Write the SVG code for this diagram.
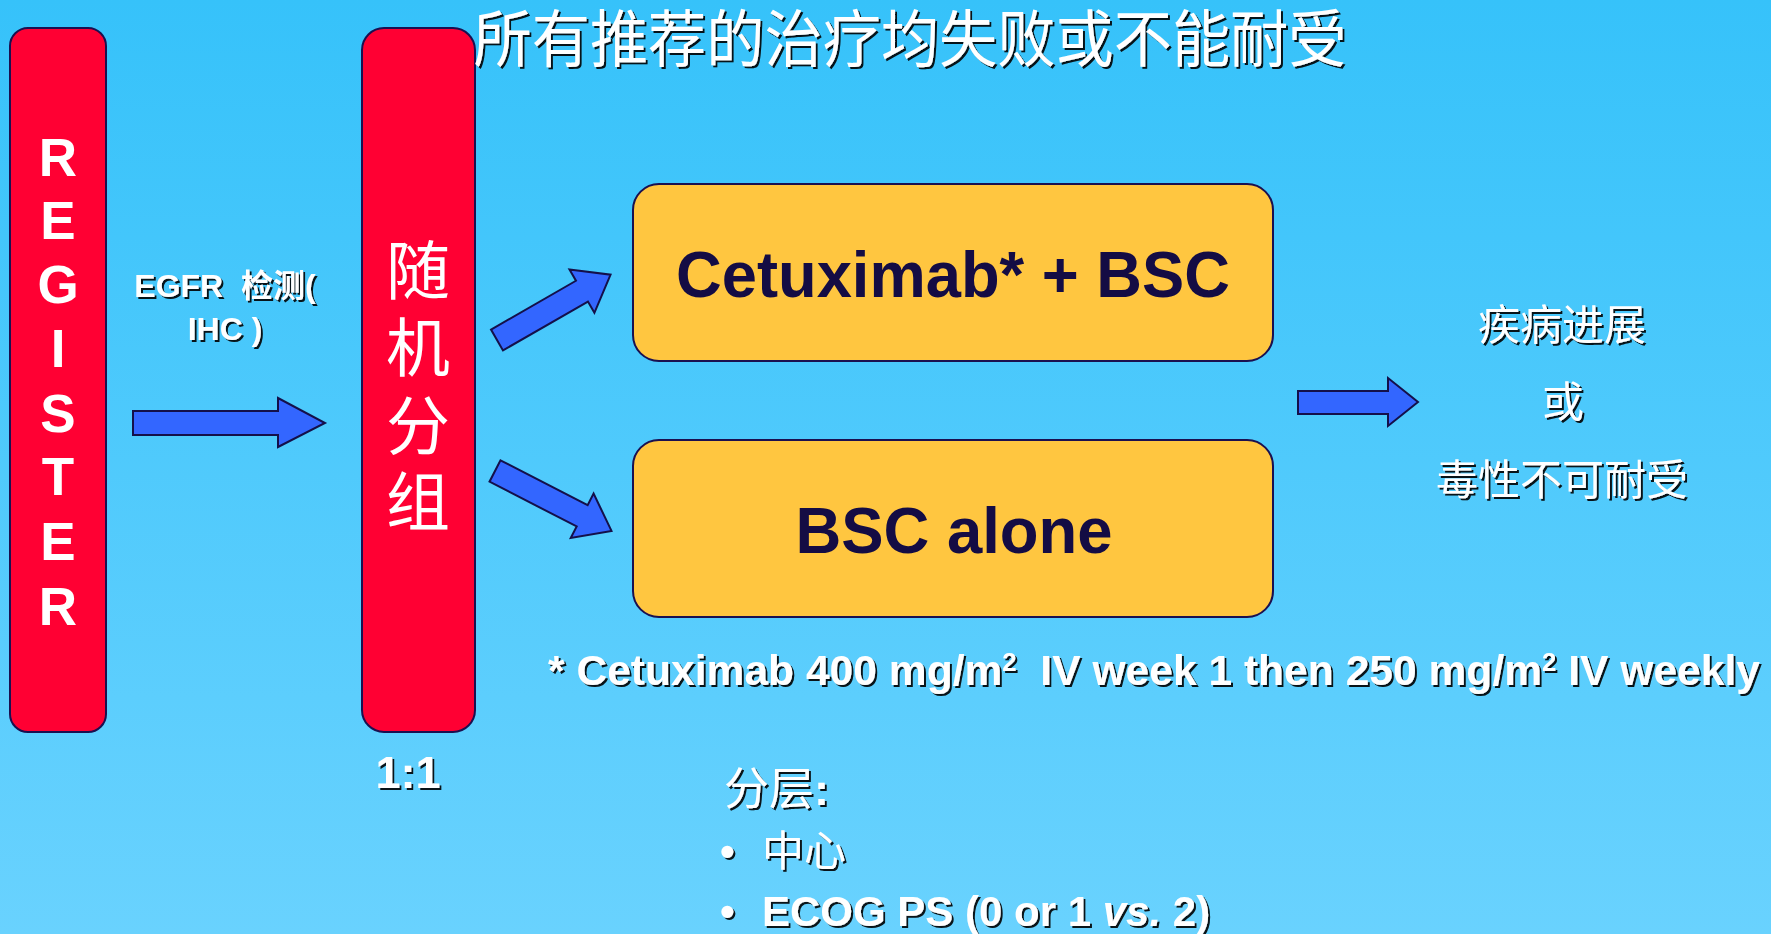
<svg xmlns="http://www.w3.org/2000/svg" width="1771" height="934" viewBox="0 0 1771 934">
<defs>
<linearGradient id="bg" x1="0" y1="0" x2="0" y2="1">
<stop offset="0" stop-color="#36C2FA"/>
<stop offset="1" stop-color="#69D2FE"/>
</linearGradient>
<filter id="sh" x="-5%" y="-20%" width="110%" height="140%">
<feDropShadow dx="2" dy="2" stdDeviation="0.4" flood-color="#000" flood-opacity="0.9"/>
</filter>
<path id="diag" d="M0,-12 L98,-12 L98,-25 L131,0 L98,25 L98,12 L0,12 Z"/>
</defs>
<style>
.red{fill:#FF0033;stroke:#1A1050;stroke-width:2}
.box{fill:#FFC640;stroke:#1A1050;stroke-width:2}
.arr{fill:#3366FF;stroke:#14104A;stroke-width:2;stroke-linejoin:miter}
.lat{font-family:"Liberation Sans","Noto Sans CJK SC",Arial,sans-serif;font-weight:bold;fill:#fff}
.cjk{font-family:"Noto Sans CJK SC","Liberation Sans",sans-serif;fill:#fff}
.navy{font-family:"Liberation Sans",Arial,sans-serif;font-weight:bold;fill:#140C44}
.s{filter:url(#sh)}
</style>
<rect width="1771" height="934" fill="url(#bg)"/>

<g id="register">
<rect class="red" x="10" y="28" width="96" height="704" rx="18"/>
<g class="lat" font-size="53" text-anchor="middle">
<text x="58" y="176">R</text>
<text x="58" y="239">E</text>
<text x="58" y="303">G</text>
<text x="58" y="367">I</text>
<text x="58" y="432">S</text>
<text x="58" y="495">T</text>
<text x="58" y="560">E</text>
<text x="58" y="625">R</text>
</g>
</g>

<g id="randomize">
<rect class="red" x="362" y="28" width="113" height="704" rx="22"/>
<g class="cjk" font-size="64" text-anchor="middle">
<text x="418" y="294">随</text>
<text x="418" y="371">机</text>
<text x="418" y="449">分</text>
<text x="418" y="525">组</text>
</g>
</g>

<g id="title">
<text class="cjk s" x="910" y="62" font-size="62" text-anchor="middle" textLength="873" lengthAdjust="spacingAndGlyphs">所有推荐的治疗均失败或不能耐受</text>
</g>

<g id="egfr-label">
<text class="lat s" x="225" y="297" font-size="32" text-anchor="middle" xml:space="preserve">EGFR  检测(</text>
<text class="lat s" x="225" y="340" font-size="32" text-anchor="middle">IHC )</text>
</g>

<g id="ratio">
<text class="lat s" x="408" y="788" font-size="45" text-anchor="middle">1:1</text>
</g>

<g id="cetuximab">
<rect class="box" x="633" y="184" width="640" height="177" rx="26"/>
<text class="navy" x="953" y="297" font-size="65" text-anchor="middle" textLength="554" lengthAdjust="spacingAndGlyphs">Cetuximab* + BSC</text>
</g>

<g id="bsc">
<rect class="box" x="633" y="440" width="640" height="177" rx="26"/>
<text class="navy" x="954" y="553" font-size="65" text-anchor="middle" textLength="317" lengthAdjust="spacingAndGlyphs">BSC alone</text>
</g>

<g id="outcome">
<text class="cjk s" x="1562" y="340" font-size="42" text-anchor="middle">疾病进展</text>
<text class="cjk s" x="1563" y="417" font-size="42" text-anchor="middle">或</text>
<text class="cjk s" x="1562" y="495" font-size="42" text-anchor="middle">毒性不可耐受</text>
</g>

<g id="footnote">
<text class="lat s" x="548" y="685" font-size="43" textLength="1212" lengthAdjust="spacingAndGlyphs" xml:space="preserve">* Cetuximab 400 mg/m<tspan font-size="26" dy="-14">2</tspan><tspan dy="14">  IV week 1 then 250 mg/m</tspan><tspan font-size="26" dy="-14">2</tspan><tspan dy="14"> IV weekly</tspan></text>
</g>

<g id="stratification">
<text class="cjk s" x="724" y="805" font-size="45">分层<tspan font-family="Liberation Sans" font-weight="bold">:</tspan></text>
<text class="s" y="866" font-size="42"><tspan class="lat" x="720">•</tspan><tspan class="cjk" x="762">中心</tspan></text>
<text class="lat s" y="926" font-size="42"><tspan x="720">•</tspan><tspan x="762">ECOG PS (0 or 1 <tspan font-style="italic">vs.</tspan> 2)</tspan></text>
</g>

<g id="connectors">
<path class="arr" d="M133,411 L278,411 L278,398 L325,423 L278,447 L278,435 L133,435 Z"/>
<use href="#diag" class="arr" transform="translate(497,340) rotate(-29.9)"/>
<use href="#diag" class="arr" transform="translate(495,471) rotate(27.2)"/>
<path class="arr" d="M1298,391 L1388,391 L1388,378 L1418,402 L1388,426 L1388,414 L1298,414 Z"/>
</g>
</svg>
